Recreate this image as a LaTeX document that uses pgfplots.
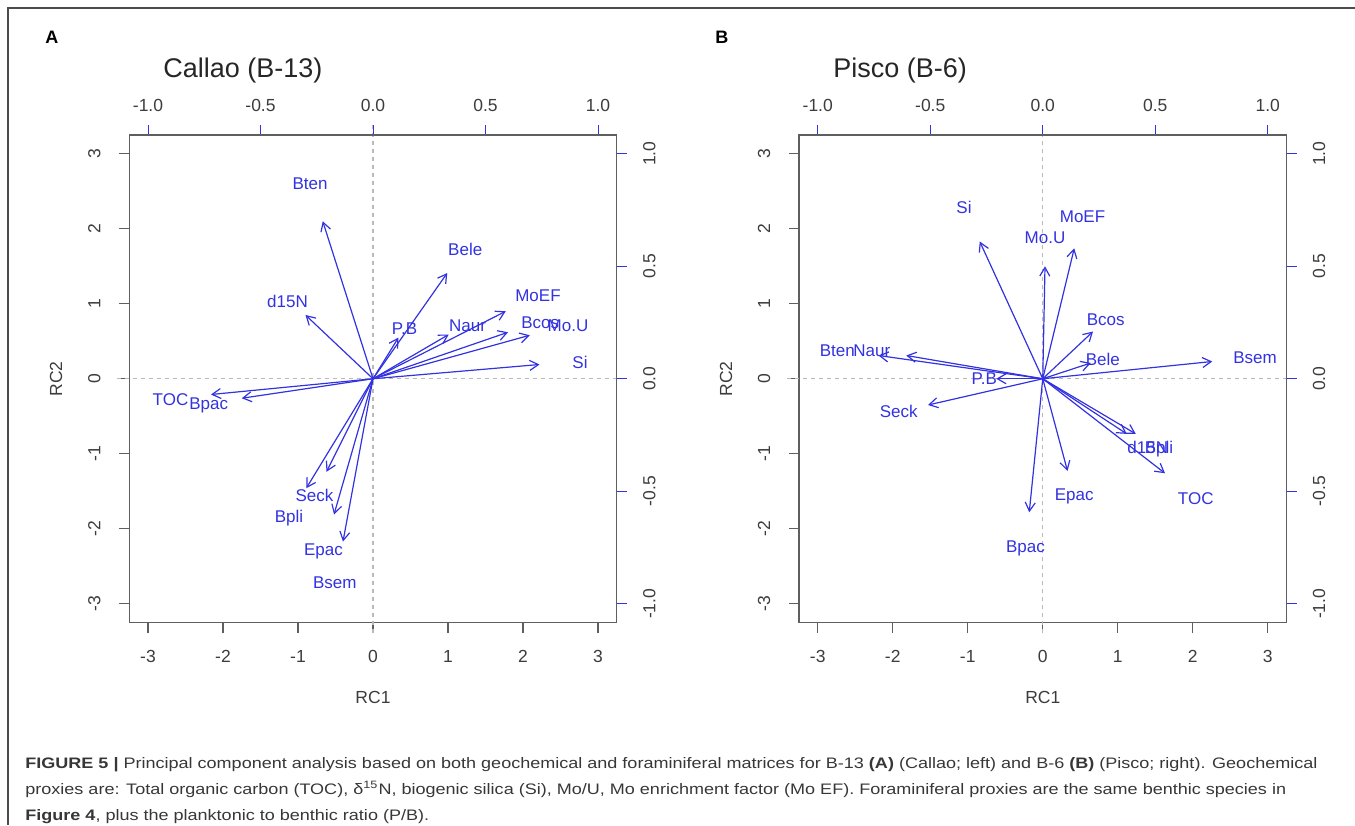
\documentclass[border=0pt]{standalone}
\usepackage{fontspec}
\setmainfont{Liberation Sans}
\usepackage{graphicx}
\usepackage{pgfplots}
\usepackage{pgfplotstable}
\pgfplotsset{compat=1.18}
\usetikzlibrary{arrows.meta}
\definecolor{rblue}{RGB}{50,50,225}
\definecolor{rtext}{RGB}{60,60,60}
\definecolor{rbox}{RGB}{95,95,95}
\definecolor{zgray}{RGB}{185,185,185}
\definecolor{captext}{RGB}{55,55,55}
\newlength\capw

\pgfplotstableread{
x y u v
0 0 -0.67 2.10
0 0 0.99 1.41
0 0 -0.90 0.85
0 0 1.77 0.90
0 0 1.01 0.59
0 0 0.34 0.55
0 0 1.80 0.62
0 0 2.09 0.58
0 0 2.22 0.19
0 0 -2.16 -0.21
0 0 -1.75 -0.26
0 0 -0.62 -1.24
0 0 -0.89 -1.46
0 0 -0.52 -1.81
0 0 -0.40 -2.17
}\arrA
\pgfplotstableread{
lab x y
Bten -0.84 2.60
Bele 1.23 1.73
d15N -1.14 1.03
MoEF 2.20 1.11
Naur 1.26 0.71
P.B 0.42 0.67
Bcos 2.23 0.75
Mo.U 2.60 0.71
Si 2.76 0.22
TOC -2.70 -0.28
Bpac -2.19 -0.33
Seck -0.78 -1.56
Bpli -1.12 -1.83
Epac -0.66 -2.28
Bsem -0.51 -2.72
}\labA
\pgfplotstableread{
x y u v
0 0 -0.84 1.83
0 0 0.42 1.74
0 0 0.03 1.50
0 0 0.67 0.63
0 0 0.64 0.21
0 0 2.26 0.23
0 0 -2.19 0.31
0 0 -1.82 0.31
0 0 -0.62 0.00
0 0 -1.53 -0.35
0 0 0.33 -1.23
0 0 -0.18 -1.78
0 0 1.63 -1.26
0 0 1.12 -0.735
0 0 1.24 -0.735
}\arrB
\pgfplotstableread{
lab x y
Si -1.05 2.29
MoEF 0.53 2.17
Mo.U 0.03 1.88
Bcos 0.84 0.79
Bele 0.80 0.26
Bsem 2.83 0.28
Bten -2.74 0.38
Naur -2.28 0.38
P.B -0.78 0.00
Seck -1.92 -0.44
Epac 0.42 -1.54
Bpac -0.23 -2.23
TOC 2.04 -1.60
d15N 1.40 -0.92
Bpli 1.55 -0.92
}\labB

\pgfplotsset{
  basestyle/.style={
    scale only axis, width=243.75pt, height=243.75pt,
    clip=false,
    ticklabel style={font=\fontsize{8.75}{10}\selectfont, text=rtext, inner sep=0pt},
  },
  mainaxis/.style={basestyle,
    xmin=-3.25, xmax=3.25, ymin=-3.25, ymax=3.25,
    xtick={-3,-2,-1,0,1,2,3}, ytick={-3,-2,-1,0,1,2,3},
    xticklabels={-3,-2,-1,0,1,2,3}, yticklabels={-3,-2,-1,0,1,2,3},
    xtick pos=left, ytick pos=left,
    tick align=outside, major tick length=5pt,
    axis line style={rbox, line width=0.7pt},
    tick style={rbox, line width=0.6pt},
    xticklabel style={yshift=-12pt, anchor=center},
    yticklabel style={xshift=-12.5pt, rotate=90, anchor=center},
  },
  topaxis/.style={basestyle,
    xmin=-1.083333, xmax=1.083333, ymin=-1.083333, ymax=1.083333,
    axis x line*=top, axis y line*=right,
    xtick={-1,-0.5,0,0.5,1}, ytick={-1,-0.5,0,0.5,1},
    xticklabels={-1.0,-0.5,0.0,0.5,1.0}, yticklabels={-1.0,-0.5,0.0,0.5,1.0},
    tick align=outside, major tick length=5pt,
    axis line style={rbox, line width=0.7pt},
    tick style={rblue, line width=0.5pt},
    xticklabel style={yshift=10pt, anchor=center},
    yticklabel style={xshift=11.3pt, rotate=90, anchor=center},
  },
  arrowplot/.style={rblue, line width=0.6pt, -{Straight Barb[angle=60:5pt]},
    quiver={u=\thisrow{u}, v=\thisrow{v}}},
  labelplot/.style={only marks, mark=*, mark size=0pt, mark options={draw=none, fill=none},
    nodes near coords, point meta=explicit symbolic,
    nodes near coords style={font=\fontsize{8.5}{10}\selectfont, text=rblue,
      anchor=base, inner sep=0pt, yshift=-3.05pt}},
  zeroline/.style={zgray, line width=0.6pt, dash pattern=on 2pt off 2pt},
}

\begin{document}%
\settowidth\capw{\fontsize{7.6}{9}\selectfont\textbf{FIGURE 5 |} Principal component analysis based on both geochemical and foraminiferal matrices for B-13 \textbf{(A)} (Callao; left) and B-6 \textbf{(B)} (Pisco; right). Geochemical}%
\pgfmathsetmacro\capsx{646pt/\capw}%
\begin{tikzpicture}
\useasboundingbox (0pt,0pt) rectangle (677.5pt,-412.5pt);
\draw[rbox!80!black, line width=0.7pt] (4pt,-412.5pt) -- (4pt,-4pt) -- (677.5pt,-4pt);

% ---------- Panel A ----------
\node[anchor=base west, inner sep=0pt, font=\bfseries\fontsize{9}{10}\selectfont] at (22.5pt,-21.5pt) {A};
\node[anchor=base west, inner sep=0pt, text=black!85, font=\fontsize{13.5}{15}\selectfont] at (81.5pt,-38.5pt) {Callao (B-13)};
\begin{axis}[mainaxis, at={(64.625pt,-311.25pt)}, anchor=south west]
  \addplot[zeroline] coordinates {(0,-3.39) (0,3.39)};
  \addplot[zeroline] coordinates {(-3.41,0) (3.41,0)};
  \addplot[arrowplot] table[x=x, y=y] {\arrA};
  \addplot[labelplot] table[x=x, y=y, meta=lab] {\labA};
\end{axis}
\begin{axis}[topaxis, at={(64.625pt,-311.25pt)}, anchor=south west]
\end{axis}
\node[anchor=base, inner sep=0pt, text=rtext, font=\fontsize{8.75}{10}\selectfont] at (186.5pt,-351.75pt) {RC1};
\node[rotate=90, anchor=center, inner sep=0pt, text=rtext, font=\fontsize{8.75}{10}\selectfont] at (28pt,-189.4pt) {RC2};

% ---------- Panel B ----------
\node[anchor=base west, inner sep=0pt, font=\bfseries\fontsize{9}{10}\selectfont] at (357.5pt,-21.5pt) {B};
\node[anchor=base west, inner sep=0pt, text=black!85, font=\fontsize{13.5}{15}\selectfont] at (416.5pt,-38.5pt) {Pisco (B-6)};
\begin{axis}[mainaxis, at={(399.5pt,-311.25pt)}, anchor=south west]
  \addplot[zeroline] coordinates {(0,-3.39) (0,3.39)};
  \addplot[zeroline] coordinates {(-3.41,0) (3.41,0)};
  \addplot[arrowplot] table[x=x, y=y] {\arrB};
  \addplot[labelplot] table[x=x, y=y, meta=lab] {\labB};
\end{axis}
\begin{axis}[topaxis, at={(399.5pt,-311.25pt)}, anchor=south west]
\end{axis}
\node[anchor=base, inner sep=0pt, text=rtext, font=\fontsize{8.75}{10}\selectfont] at (521.375pt,-351.75pt) {RC1};
\node[rotate=90, anchor=center, inner sep=0pt, text=rtext, font=\fontsize{8.75}{10}\selectfont] at (363pt,-189.4pt) {RC2};

% ---------- Caption ----------
\begin{scope}[every node/.style={anchor=base west, inner sep=0pt, text=captext, font=\fontsize{7.6}{9}\selectfont}]
\node at (12.5pt,-384.25pt) {\scalebox{\capsx}[1]{\textbf{FIGURE 5 |} Principal component analysis based on both geochemical and foraminiferal matrices for B-13 \textbf{(A)} (Callao; left) and B-6 \textbf{(B)} (Pisco; right). Geochemical}};
\node at (12.5pt,-397.25pt) {\scalebox{\capsx}[1]{proxies are: Total organic carbon (TOC), δ\textsuperscript{15}N, biogenic silica (Si), Mo/U, Mo enrichment factor (Mo EF). Foraminiferal proxies are the same benthic species in}};
\node at (12.5pt,-410.25pt) {\scalebox{\capsx}[1]{\textbf{Figure 4}, plus the planktonic to benthic ratio (P/B).}};
\end{scope}
\end{tikzpicture}%
\end{document}
